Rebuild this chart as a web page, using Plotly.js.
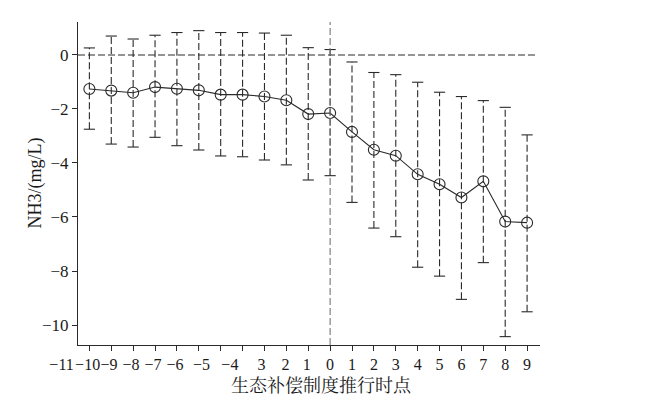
<!DOCTYPE html>
<html>
<head>
<meta charset="utf-8">
<script src="https://cdn.plot.ly/plotly-3.0.1.min.js"></script>
<style>html,body{margin:0;padding:0;background:#fff;}#chart{width:646px;height:414px;}</style>
</head>
<body>
<div id="chart"></div>
<script>
// Event time (years relative to policy) and tick labels as printed
const periods = [-11,-10,-9,-8,-7,-6,-5,-4,-3,-2,-1,0,1,2,3,4,5,6,7,8,9];
const tickLabels = ["\u221211","\u221210","\u22129","\u22128","\u22127","\u22126","\u22125","\u22124","3","2","1","0","1","2","3","4","5","6","7","8","9"];
// Point estimates
const estimate = [-1.26,-1.32,-1.40,-1.19,-1.25,-1.31,-1.47,-1.47,-1.54,-1.68,-2.19,-2.15,-2.85,-3.51,-3.73,-4.42,-4.79,-5.28,-4.68,-6.17,-6.21];
// Confidence interval bounds
const upper = [0.26,0.70,0.59,0.73,0.83,0.90,0.83,0.83,0.81,0.73,0.27,0.20,-0.26,-0.65,-0.73,-1.01,-1.38,-1.54,-1.69,-1.94,-2.96];
const lower = [-2.75,-3.30,-3.41,-3.05,-3.36,-3.52,-3.74,-3.77,-3.89,-4.07,-4.63,-4.47,-5.46,-6.41,-6.73,-7.86,-8.19,-9.05,-7.69,-10.43,-9.51];
const yTickVals = [0,-2,-4,-6,-8,-10];
const yTickText = ["0","\u22122","\u22124","\u22126","\u22128","\u221210"];

const yTitle = "NH3/(mg/L)";
const xTitle = "生态补偿制度推行时点";

// layout: where the printed x labels sit relative to their ticks (in tick units)
const labelShift = [-1.27,-1.08,-1.10,-1.10,-1.09,-1.09,-0.88,-0.58,-0.14,-0.04,-0.07,0,0,0,0,0,0,0,0,0,0];
const labelPos = periods.map((p, i) => p + labelShift[i]);

const ink = "#2a2a2a";
const textColor = "#1a1a1a";
const serif = "'Liberation Serif', 'Times New Roman', 'Noto Serif CJK SC', 'Noto Sans CJK SC', serif";

// geometry (px)
const W = 646, H = 414, mL = 40, mR = 106, mT = 22, mB = 69;
const axisLeftPx = 78;
const xRange = [-11.52, 9.59];
const plotW = W - mL - mR;
const domStart = (axisLeftPx - mL) / plotW;
const unitsPerPx = (xRange[1] - xRange[0]) / (plotW - (axisLeftPx - mL));
const xRange2 = [xRange[0] - (axisLeftPx - mL) * unitsPerPx, xRange[1]];

// vertical dashed CI segments
const segX = [], segY = [];
periods.forEach((p, i) => { segX.push(p, p, null); segY.push(lower[i], upper[i], null); });
const capX = periods.concat(periods);
const capY = upper.concat(lower);

const traces = [
  { type: "scatter", mode: "lines", x: segX, y: segY, connectgaps: false,
    line: { color: ink, width: 1.1, dash: "7px,3px" }, hoverinfo: "skip", showlegend: false },
  { type: "scatter", mode: "markers", x: capX, y: capY,
    marker: { symbol: "line-ew", size: 8, line: { color: ink, width: 1.1 } }, showlegend: false },
  { type: "scatter", mode: "lines+markers", x: periods, y: estimate,
    line: { color: ink, width: 1.1 },
    marker: { symbol: "circle-open", size: 11, color: ink, line: { color: ink, width: 1.1 } }, showlegend: false },
  // carrier for the label axis (invisible)
  { type: "scatter", mode: "lines", x: periods, y: estimate, xaxis: "x2", yaxis: "y",
    line: { width: 0, color: "rgba(0,0,0,0)" }, opacity: 0, hoverinfo: "skip", showlegend: false }
];

const layout = {
  width: W, height: H,
  margin: { l: mL, r: mR, t: mT, b: mB },
  paper_bgcolor: "#fff", plot_bgcolor: "rgba(0,0,0,0)",
  font: { family: serif, color: textColor, size: 17 },
  showlegend: false,
  xaxis: {
    domain: [domStart, 1], anchor: "y",
    range: xRange, tickvals: periods, showticklabels: false,
    showgrid: false, zeroline: false, showline: true, linecolor: ink, linewidth: 1,
    ticks: "outside", ticklen: 5, tickcolor: ink
  },
  xaxis2: {
    domain: [0, 1], anchor: "y", side: "bottom",
    range: xRange2, tickvals: labelPos, ticktext: tickLabels, tickangle: 0,
    showgrid: false, zeroline: false, showline: false,
    ticks: "outside", ticklen: 5, tickcolor: "rgba(0,0,0,0)",
    tickfont: { size: 16, color: textColor }
  },
  yaxis: {
    anchor: "x",
    range: [-10.74, 1.22], tickvals: yTickVals, ticktext: yTickText,
    showgrid: false, zeroline: false, showline: true, linecolor: ink, linewidth: 1,
    ticks: "outside", ticklen: 5, tickcolor: ink, tickfont: { size: 17, color: textColor }
  },
  annotations: [
    { text: xTitle, xref: "x domain", yref: "y domain", x: 0.527, y: 0, yshift: -41,
      xanchor: "center", yanchor: "middle", showarrow: false, font: { size: 18, color: textColor } },
    { text: yTitle, xref: "x domain", yref: "y domain", x: 0, xshift: -43, y: 0.5,
      xanchor: "center", yanchor: "middle", textangle: -90, showarrow: false, font: { size: 18, color: textColor } }
  ],
  shapes: [
    { type: "line", xref: "x domain", yref: "y", x0: 0, x1: 0.99, y0: 0, y1: 0,
      line: { color: ink, width: 1.1, dash: "7px,3px" } },
    { type: "line", xref: "x", yref: "y domain", x0: 0, x1: 0, y0: 0, y1: 1,
      line: { color: "#777", width: 1.1, dash: "7px,3px" } }
  ]
};

Plotly.newPlot("chart", traces, layout, { staticPlot: true, displayModeBar: false });
</script>
</body>
</html>
